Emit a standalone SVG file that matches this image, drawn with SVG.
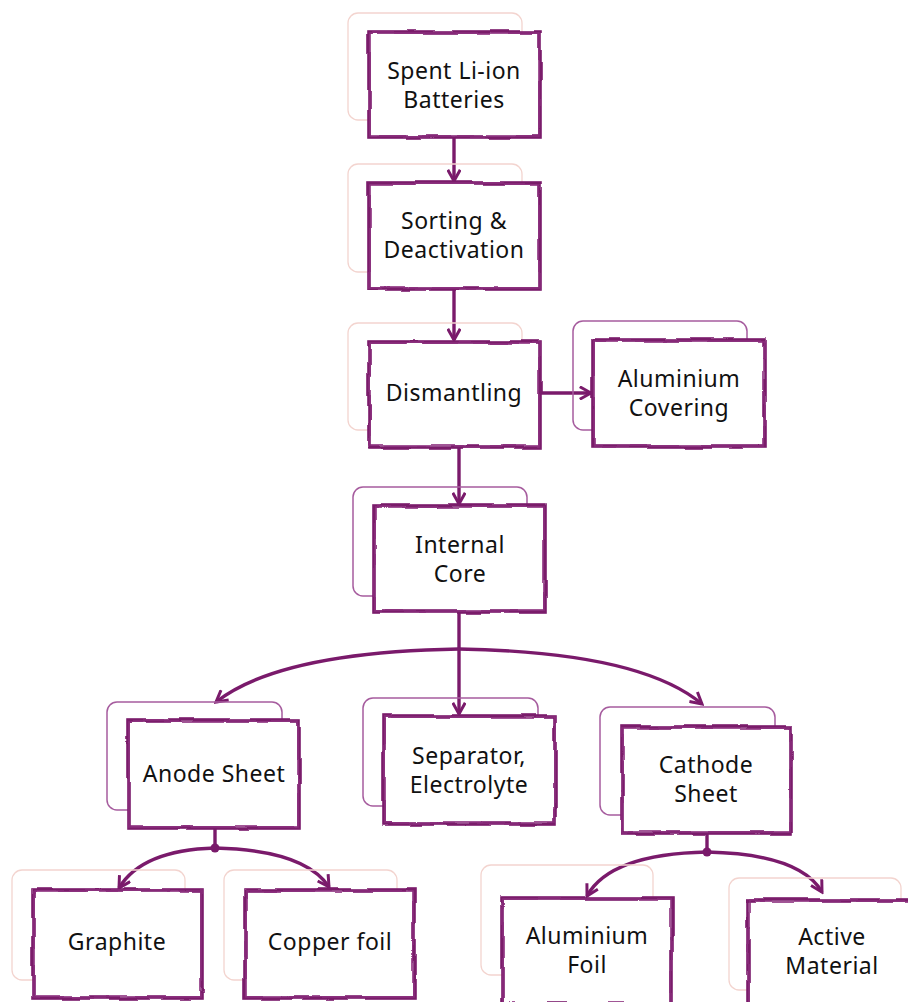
<svg xmlns="http://www.w3.org/2000/svg" width="908" height="1002" viewBox="0 0 908 1002">
<defs>
<filter id="wob1" x="-10%" y="-10%" width="120%" height="120%">
<feTurbulence type="fractalNoise" baseFrequency="0.035" numOctaves="1" seed="3" result="n"/>
<feDisplacementMap in="SourceGraphic" in2="n" scale="5" xChannelSelector="R" yChannelSelector="G"/>
</filter>
<filter id="wob2" x="-10%" y="-10%" width="120%" height="120%">
<feTurbulence type="fractalNoise" baseFrequency="0.03" numOctaves="1" seed="11" result="n"/>
<feDisplacementMap in="SourceGraphic" in2="n" scale="5" xChannelSelector="R" yChannelSelector="G"/>
</filter>
<marker id="ah" viewBox="0 0 12 12" refX="10" refY="6" markerWidth="4.4" markerHeight="4.4" orient="auto" markerUnits="strokeWidth">
<path d="M1,1 L10,6 L1,11" fill="none" stroke="#7a1a6b" stroke-width="2.4" stroke-linejoin="miter"/>
</marker>
<style>
.bgf{fill:none;stroke:#f3d4cf;stroke-width:1.3}
.bgp{fill:none;stroke:#a65c9e;stroke-width:1.5}
.fill{fill:#fff;stroke:none}
.b1{fill:none;stroke:#7a1a6b;stroke-width:3.6;filter:url(#wob1)}
.b2{fill:none;stroke:#8a2a7c;stroke-width:1.6;filter:url(#wob2)}
.t{font-family:"Noto Sans","Open Sans","Liberation Sans",sans-serif;font-size:23px;letter-spacing:0.5px;fill:#111;text-anchor:middle}
.c{fill:none;stroke:#7a1a6b;stroke-width:3.4;marker-end:url(#ah)}
.cl{fill:none;stroke:#7a1a6b;stroke-width:3.4}
</style>
</defs>
<rect width="908" height="1002" fill="#fff"/>

<g id="connectors">
<path class="c" d="M454,137 L454,181"/>
<path class="c" d="M454,289 L454,340"/>
<path class="c" d="M540,393 L591,393"/>
<path class="c" d="M459,447 L459,504"/>
<path class="c" d="M459,612 L459,714"/>
<path class="c" d="M459,649 Q280,652 216,702"/>
<path class="c" d="M459,649 Q640,652 702,704"/>
<path class="cl" d="M215,828 L215,848"/>
<circle cx="215" cy="848" r="4.5" fill="#7a1a6b"/>
<path class="c" d="M215,848 Q142,850 119,888"/>
<path class="c" d="M215,848 Q305,850 329,887"/>
<path class="cl" d="M707,833 L707,852"/>
<circle cx="707" cy="852" r="4.5" fill="#7a1a6b"/>
<path class="c" d="M707,852 Q610,854 587,896"/>
<path class="c" d="M707,852 Q800,854 822,892"/>
</g>

<g id="n1">
<rect class="bgf" x="348" y="13" width="174" height="107" rx="10"/>
<rect class="fill" x="369" y="32" width="171" height="105"/>
<rect class="b1" x="369" y="32" width="171" height="105"/>
<rect class="b2" x="370" y="33" width="169" height="103"/>
<text class="t" x="454" y="79">Spent Li-ion</text>
<text class="t" x="454" y="108">Batteries</text>
</g>

<g id="n2">
<rect class="bgf" x="348" y="164" width="174" height="108" rx="10"/>
<rect class="fill" x="369" y="183" width="171" height="106"/>
<rect class="b1" x="369" y="183" width="171" height="106"/>
<rect class="b2" x="370" y="184" width="169" height="104"/>
<text class="t" x="454" y="229">Sorting &amp;</text>
<text class="t" x="454" y="258">Deactivation</text>
</g>

<g id="n3">
<rect class="bgf" x="348" y="323" width="174" height="107" rx="10"/>
<rect class="fill" x="369" y="342" width="171" height="105"/>
<rect class="b1" x="369" y="342" width="171" height="105"/>
<rect class="b2" x="370" y="343" width="169" height="103"/>
<text class="t" x="454" y="401">Dismantling</text>
</g>

<g id="n4">
<rect class="bgp" x="573" y="321" width="174" height="109" rx="10"/>
<rect class="fill" x="593" y="340" width="172" height="107"/>
<rect class="b1" x="593" y="340" width="172" height="107"/>
<rect class="b2" x="594" y="341" width="170" height="105"/>
<text class="t" x="679" y="387">Aluminium</text>
<text class="t" x="679" y="416">Covering</text>
</g>

<g id="n5">
<rect class="bgp" x="353" y="487" width="174" height="109" rx="10"/>
<rect class="fill" x="374" y="506" width="171" height="106"/>
<rect class="b1" x="374" y="506" width="171" height="106"/>
<rect class="b2" x="375" y="507" width="169" height="104"/>
<text class="t" x="460" y="553">Internal</text>
<text class="t" x="460" y="582">Core</text>
</g>

<g id="n6">
<rect class="bgp" x="107" y="702" width="175" height="108" rx="10"/>
<rect class="fill" x="128" y="720" width="171" height="108"/>
<rect class="b1" x="128" y="720" width="171" height="108"/>
<rect class="b2" x="129" y="721" width="169" height="106"/>
<text class="t" x="214" y="782">Anode Sheet</text>
</g>

<g id="n7">
<rect class="bgp" x="363" y="698" width="175" height="108" rx="10"/>
<rect class="fill" x="384" y="716" width="171" height="108"/>
<rect class="b1" x="384" y="716" width="171" height="108"/>
<rect class="b2" x="385" y="717" width="169" height="106"/>
<text class="t" x="469" y="764">Separator,</text>
<text class="t" x="469" y="793">Electrolyte</text>
</g>

<g id="n8">
<rect class="bgp" x="600" y="707" width="175" height="108" rx="10"/>
<rect class="fill" x="622" y="727" width="169" height="106"/>
<rect class="b1" x="622" y="727" width="169" height="106"/>
<rect class="b2" x="623" y="728" width="167" height="104"/>
<text class="t" x="706" y="773">Cathode</text>
<text class="t" x="706" y="802">Sheet</text>
</g>

<g id="n9">
<rect class="bgf" x="12" y="870" width="173" height="110" rx="10"/>
<rect class="fill" x="33" y="890" width="169" height="108"/>
<rect class="b1" x="33" y="890" width="169" height="108"/>
<rect class="b2" x="34" y="891" width="167" height="106"/>
<text class="t" x="117" y="950">Graphite</text>
</g>

<g id="n10">
<rect class="bgf" x="224" y="870" width="173" height="110" rx="10"/>
<rect class="fill" x="245" y="890" width="169" height="108"/>
<rect class="b1" x="245" y="890" width="169" height="108"/>
<rect class="b2" x="246" y="891" width="167" height="106"/>
<text class="t" x="330" y="950">Copper foil</text>
</g>

<g id="n11">
<rect class="bgf" x="481" y="865" width="172" height="110" rx="10"/>
<rect class="fill" x="502" y="898" width="170" height="106"/>
<rect class="b1" x="502" y="898" width="170" height="106"/>
<rect class="b2" x="503" y="899" width="168" height="104"/>
<text class="t" x="587" y="944">Aluminium</text>
<text class="t" x="587" y="973">Foil</text>
</g>

<g id="n12">
<rect class="bgf" x="729" y="878" width="172" height="112" rx="10"/>
<rect class="fill" x="748" y="900" width="170" height="106"/>
<rect class="b1" x="748" y="900" width="170" height="106"/>
<rect class="b2" x="749" y="901" width="168" height="104"/>
<text class="t" x="832" y="945">Active</text>
<text class="t" x="832" y="974">Material</text>
</g>
</svg>
